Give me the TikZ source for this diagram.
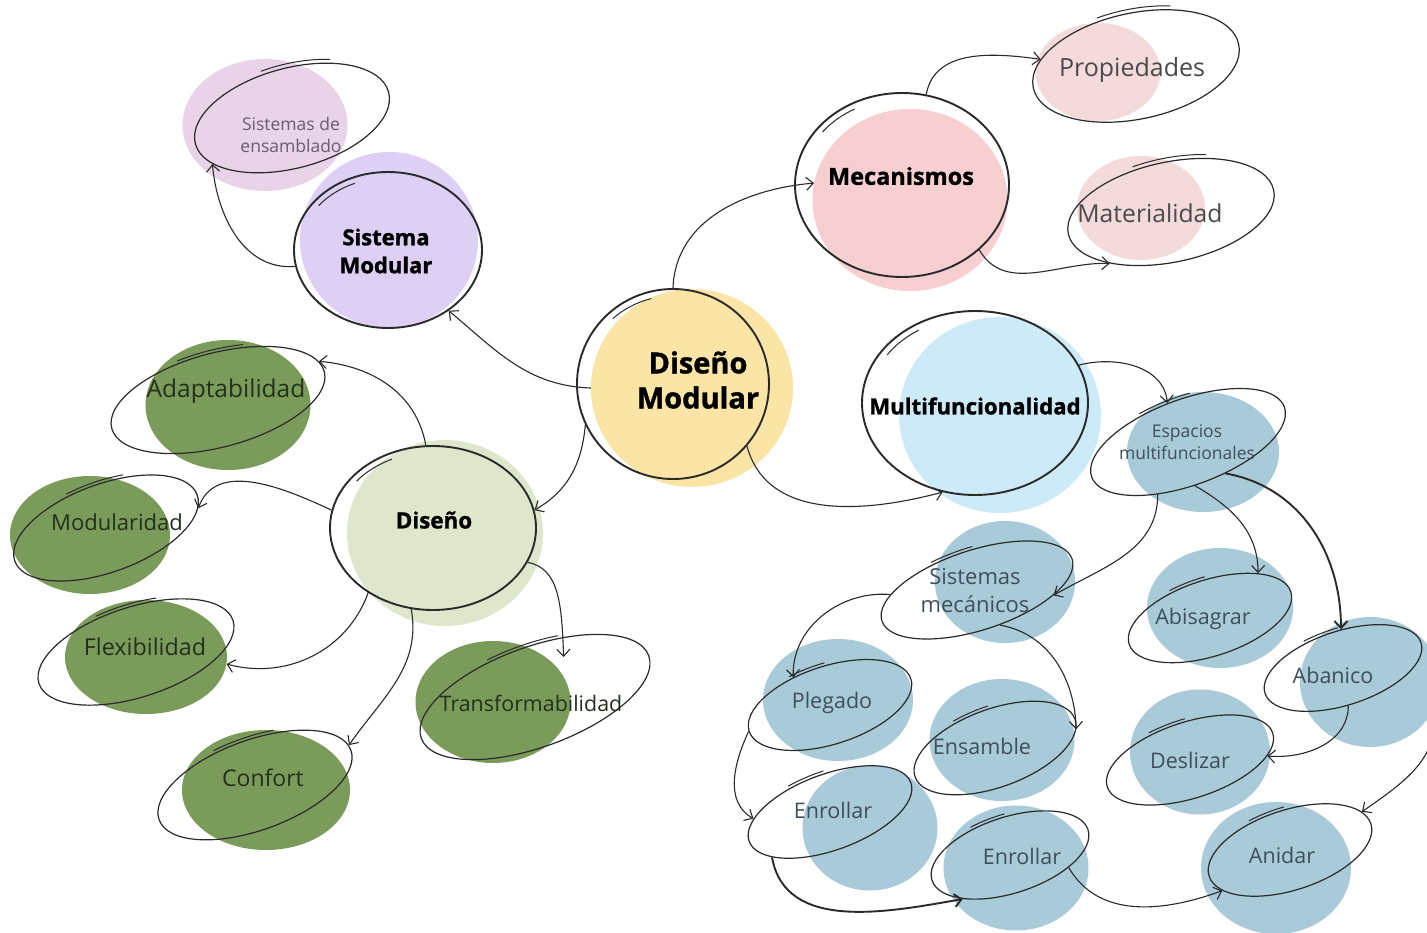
\documentclass[tikz,border=0pt]{standalone}
\usepackage{fontspec}
\setmainfont{Open Sans}
\newfontfamily\heavyfont[FakeBold=1.2]{Open Sans Bold}
\usetikzlibrary{shapes.geometric,arrows.meta}
\definecolor{ink}{HTML}{2A2A2A}
\definecolor{cYel}{HTML}{FAE5A6}
\definecolor{cLav}{HTML}{DDD0F4}
\definecolor{cPur}{HTML}{E8D3E8}
\definecolor{cPink}{HTML}{F7CFD0}
\definecolor{cPinkL}{HTML}{F4DADB}
\definecolor{cSky}{HTML}{CCEAF8}
\definecolor{cBlue}{HTML}{A9CBD9}
\definecolor{cLgr}{HTML}{DEE7CB}
\definecolor{cDgr}{HTML}{7B9B5B}
\definecolor{tPur}{HTML}{6E5B70}
\definecolor{tGry}{HTML}{4A4A4A}
\definecolor{tBlu}{HTML}{3E4F5A}
\definecolor{tGrn}{HTML}{22301C}
\newcommand\ovs[6]{\begin{scope}[shift={(#1.center)},rotate=#2]\draw[draw=ink,line width=1pt] (#5:#3pt and #4pt) arc[start angle=#5,end angle=#6,x radius=#3pt,y radius=#4pt];\end{scope}}
\tikzset{
  blob/.style={ellipse, fill=#1, draw=none, inner sep=0pt},
  ring/.style={ellipse, draw=ink, line width=1.2pt, inner sep=0pt},
  bigring/.style={ellipse, draw=ink, line width=1.9pt, inner sep=0pt},
  lbl/.style={align=center, inner sep=1pt, text=#1},
  con/.style={draw=ink, line width=1.1pt, -{Straight Barb[length=7pt,width=13pt]}},
  thickcon/.style={con, line width=1.9pt},
  bluetxt/.style={lbl=tBlu, font=\fontsize{21.5}{26}\selectfont},
  greentxt/.style={lbl=tGrn, font=\fontsize{#1}{27}\selectfont},
}
\begin{document}
\begin{tikzpicture}[x=1pt,y=-1pt]
\fill[white] (0,0) rectangle (1427,933);
\useasboundingbox (0,0) rectangle (1427,933);
% ---------- blobs ----------
\node[blob=cYel, minimum width=202pt, minimum height=198pt] (dmb) at (692,388) {};
\node[blob=cLav, minimum width=178pt, minimum height=176pt] (smb) at (389,240) {};
\node[blob=cPur, minimum width=165pt, minimum height=132pt] (ensb) at (265,125) {};
\node[blob=cPink, minimum width=195pt, minimum height=182pt] (mecb) at (910,200) {};
\node[blob=cPinkL, minimum width=125pt, minimum height=98pt] (propb) at (1098,72) {};
\node[blob=cPinkL, minimum width=128pt, minimum height=104pt] (matb) at (1141,208) {};
\node[blob=cSky, minimum width=202pt, minimum height=196pt] (mulb) at (1000,415) {};
\node[blob=cBlue, minimum width=152pt, minimum height=120pt] (espb) at (1203,452) {};
\node[blob=cBlue, minimum width=140pt, minimum height=122pt] (sysb) at (1005,582) {};
\node[blob=cBlue, minimum width=146pt, minimum height=120pt] (abib) at (1220,608) {};
\node[blob=cBlue, minimum width=140pt, minimum height=130pt] (abab) at (1370,682) {};
\node[blob=cBlue, minimum width=140pt, minimum height=125pt] (desb) at (1200,752) {};
\node[blob=cBlue, minimum width=150pt, minimum height=122pt] (pleb) at (838,700) {};
\node[blob=cBlue, minimum width=145pt, minimum height=122pt] (ensmb) at (1002,740) {};
\node[blob=cBlue, minimum width=135pt, minimum height=125pt] (enlb) at (870,828) {};
\node[blob=cBlue, minimum width=145pt, minimum height=125pt] (enbb) at (1016,868) {};
\node[blob=cBlue, minimum width=150pt, minimum height=132pt] (anib) at (1276,868) {};
\node[blob=cLgr, minimum width=196pt, minimum height=186pt] (disb) at (445,533) {};
\node[blob=cDgr, minimum width=165pt, minimum height=130pt] (adab) at (228,405) {};
\node[blob=cDgr, minimum width=160pt, minimum height=118pt] (modb) at (90,535) {};
\node[blob=cDgr, minimum width=162pt, minimum height=114pt] (fleb) at (146,657) {};
\node[blob=cDgr, minimum width=155pt, minimum height=122pt] (trab) at (493,702) {};
\node[blob=cDgr, minimum width=168pt, minimum height=120pt] (conb) at (266,790) {};
% ---------- outlines ----------
\node[bigring, minimum width=192pt, minimum height=190pt] (dm) at (673,384) {};
\node[bigring, minimum width=188pt, minimum height=156pt] (sm) at (388,250) {};
\node[bigring, minimum width=214pt, minimum height=184pt] (mec) at (902,185) {};
\node[bigring, minimum width=226pt, minimum height=184pt] (mul) at (975,403) {};
\node[bigring, minimum width=206pt, minimum height=164pt] (dis) at (433,528) {};
\node[ring, minimum width=200pt, minimum height=100pt, rotate=15] (ens) at (292,118) {};
\node[ring, minimum width=210pt, minimum height=106pt, rotate=12] (prop) at (1136,66) {};
\node[ring, minimum width=210pt, minimum height=100pt, rotate=12] (mat) at (1171,212) {};
\node[ring, minimum width=205pt, minimum height=86pt, rotate=20] (esp) at (1188,442) {};
\node[ring, minimum width=200pt, minimum height=80pt, rotate=18] (sys) at (977,590) {};
\node[ring, minimum width=170pt, minimum height=76pt, rotate=18] (abi) at (1210,618) {};
\node[ring, minimum width=164pt, minimum height=74pt, rotate=18] (aba) at (1343,668) {};
\node[ring, minimum width=174pt, minimum height=76pt, rotate=18] (des) at (1190,760) {};
\node[ring, minimum width=170pt, minimum height=78pt, rotate=18] (ple) at (830,705) {};
\node[ring, minimum width=170pt, minimum height=78pt, rotate=20] (ensm) at (995,748) {};
\node[ring, minimum width=172pt, minimum height=76pt, rotate=20] (enl) at (830,812) {};
\node[ring, minimum width=164pt, minimum height=76pt, rotate=18] (enb) at (1010,855) {};
\node[ring, minimum width=170pt, minimum height=80pt, rotate=18] (ani) at (1290,850) {};
\node[ring, minimum width=220pt, minimum height=94pt, rotate=15] (ada) at (218,400) {};
\node[ring, minimum width=194pt, minimum height=88pt, rotate=20] (mod) at (106,528) {};
\node[ring, minimum width=204pt, minimum height=90pt, rotate=18] (fle) at (136,652) {};
\node[ring, minimum width=242pt, minimum height=100pt, rotate=20] (tra) at (535,697) {};
\node[ring, minimum width=204pt, minimum height=90pt, rotate=20] (con) at (255,785) {};
% ---------- overshoot strokes ----------
\ovs{dm}{0}{90}{88}{132}{104}
\ovs{sm}{0}{88}{72}{142}{112}
\ovs{mec}{0}{101}{86}{142}{118}
\ovs{mul}{0}{106}{86}{146}{122}
\ovs{dis}{0}{97}{76}{142}{115}
\ovs{ens}{15}{104}{54}{100}{60}
\ovs{prop}{12}{109}{57}{105}{65}
\ovs{mat}{12}{109}{54}{105}{65}
\ovs{esp}{20}{106}{46}{110}{80}
\ovs{sys}{18}{103}{43}{110}{85}
\ovs{abi}{18}{88}{41}{110}{85}
\ovs{aba}{18}{85}{40}{110}{85}
\ovs{des}{18}{90}{41}{110}{85}
\ovs{ple}{18}{88}{42}{110}{85}
\ovs{ensm}{20}{88}{42}{110}{85}
\ovs{enl}{20}{89}{41}{110}{85}
\ovs{enb}{18}{85}{41}{110}{85}
\ovs{ani}{18}{88}{43}{110}{85}
\ovs{ada}{15}{113}{50}{105}{70}
\ovs{mod}{20}{100}{47}{105}{70}
\ovs{fle}{18}{105}{48}{105}{70}
\ovs{tra}{20}{124}{53}{105}{70}
\ovs{con}{20}{105}{48}{105}{70}
% ---------- labels ----------
\node[lbl=black, font=\heavyfont\fontsize{29}{35}\selectfont] (tdm) at (698,380) {Diseño\\Modular};
\node[lbl=black, font=\heavyfont\fontsize{22}{28}\selectfont] (tsm) at (386,251) {Sistema\\Modular};
\node[lbl=tPur, font=\fontsize{17.5}{22}\selectfont] (tens) at (291,135) {Sistemas de\\ensamblado};
\node[lbl=black, font=\heavyfont\fontsize{23.5}{28}\selectfont] (tmec) at (901,176) {Mecanismos};
\node[lbl=tGry, font=\fontsize{25}{29}\selectfont] (tprop) at (1132,70) {Propiedades};
\node[lbl=tGry, font=\fontsize{24.7}{29}\selectfont] (tmat) at (1150,213) {Materialidad};
\node[lbl=black, font=\heavyfont\fontsize{22.2}{26}\selectfont] (tmul) at (975,406) {Multifuncionalidad};
\node[lbl=tBlu, font=\fontsize{17.5}{22}\selectfont] (tesp) at (1187,442) {Espacios\\multifuncionales};
\node[lbl=tBlu, font=\fontsize{22}{28}\selectfont] (tsys) at (975,591) {Sistemas\\mecánicos};
\node[bluetxt] (tabi) at (1203,619) {Abisagrar};
\node[bluetxt] (taba) at (1333,675) {Abanico};
\node[bluetxt] (tdes) at (1190,760) {Deslizar};
\node[bluetxt] (tple) at (832,703) {Plegado};
\node[bluetxt] (tensm) at (982,746) {Ensamble};
\node[bluetxt] (tenl) at (833,810) {Enrollar};
\node[bluetxt] (tenb) at (1022,856) {Enrollar};
\node[bluetxt] (tani) at (1282,855) {Anidar};
\node[lbl=black, font=\heavyfont\fontsize{22.4}{26}\selectfont] (tdis) at (434,520) {Diseño};
\node[greentxt=24.5] (tada) at (226,391) {Adaptabilidad};
\node[greentxt=22] (tmod) at (117,522) {Modularidad};
\node[greentxt=23.3] (tfle) at (145,647) {Flexibilidad};
\node[greentxt=21.4] (ttra) at (531,703) {Transformabilidad};
\node[greentxt=23] (tcon) at (263,778) {Confort};
% ---------- connectors ----------
\draw[con] (dmb.180) to[out=178,in=-40] (sm.-45);
\draw[con] (sm.190) to[out=185,in=-85] (ens.195);
\draw[con] (dm.90) to[out=88,in=185] (mecb.170);
\draw[con] (mec.75) to[out=80,in=172] (prop.164);
\draw[con] (mec.-40) to[out=-60,in=178] (mat.208);
\draw[con] (dm.-40) to[out=-75,in=195] (mul.-110);
\draw[con] (dm.205) to[out=-95,in=30] (dis.10);
\draw[con] (dis.95) to[out=100,in=-5] (ada.6);
\draw[con] (dis.170) to[out=155,in=70] (mod.-8);
\draw[con] (dis.-135) to[out=-110,in=-15] (fleb.-5);
\draw[con] (dis.-105) to[out=-80,in=55] (con.3);
\draw[con, shorten >=-20pt] (dis.-20) to[out=-10,in=92] (tra.45);
\draw[con] (mul.20) to[out=15,in=95] (esp.98);
\draw[con] (esp.-140) to[out=-90,in=30] (sys.-22);
\draw[con] (esp.-101) to[out=-30,in=90] (abi.25);
\draw[thickcon] (esp.-60) to[out=-10,in=90] (aba.75);
\draw[con] (sys.165) to[out=175,in=92] (ple.125);
\draw[con] (sys.-75) to[out=-10,in=92] (ensm.-7);
\draw[con] (ple.180) to[out=-115,in=150] (enl.165);
\draw[thickcon] (enl.-162) to[out=-80,in=190] (enb.205);
\draw[con] (enb.-30) to[out=-60,in=200] (ani.193);
\draw[con] (abab.-25) to[out=-80,in=35] (ani.10);
\draw[con] (aba.-100) to[out=-90,in=-5] (des.-15);
\end{tikzpicture}
\end{document}
